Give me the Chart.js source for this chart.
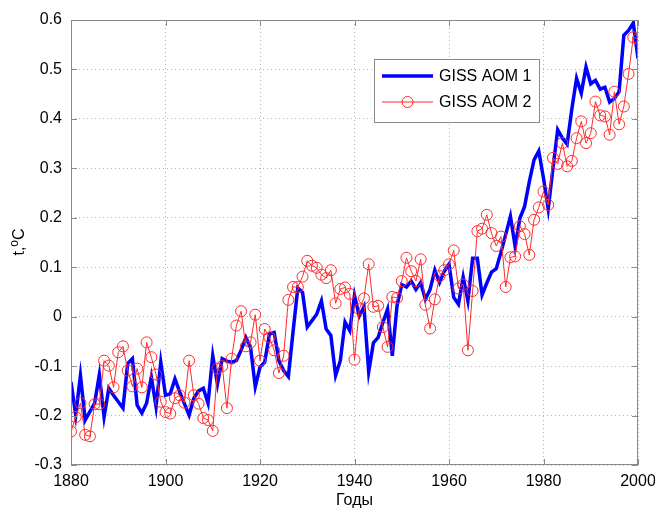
<!DOCTYPE html>
<html>
<head>
<meta charset="utf-8">
<script src="https://cdn.jsdelivr.net/npm/chart.js@4.4.1/dist/chart.umd.min.js"></script>
<style>
  body { margin: 0; background: #fff; }
</style>
</head>
<body>
<canvas id="chart" width="655" height="510"></canvas>
<script>
// years on the x axis
const firstYear = 1880;
const lastYear = 2000;
const years = [];
for (let y = firstYear; y <= lastYear; y++) years.push(y);

const xTicks = [1880, 1900, 1920, 1940, 1960, 1980, 2000];
const yTicks = [-0.3, -0.2, -0.1, 0, 0.1, 0.2, 0.3, 0.4, 0.5, 0.6];

// GISS AOM 1 (blue, thick)
const aom1 = [
  -0.132, -0.199, -0.119, -0.209, -0.192, -0.175, -0.117, -0.203, -0.145, -0.159,
  -0.172, -0.185, -0.095, -0.085, -0.179, -0.195, -0.175, -0.122, -0.182, -0.092,
  -0.159, -0.156, -0.126, -0.152, -0.176, -0.199, -0.165, -0.150, -0.145, -0.175,
  -0.079, -0.136, -0.085, -0.090, -0.092, -0.089, -0.068, -0.042, -0.062, -0.142,
  -0.102, -0.092, -0.035, -0.032, -0.089, -0.109, -0.121, -0.030, 0.058, 0.049,
  -0.021, -0.008, 0.005, 0.032, -0.025, -0.038, -0.119, -0.089, -0.011, -0.028,
  0.043, 0.001, 0.020, -0.111, -0.053, -0.042, -0.012, 0.015, -0.079, 0.022,
  0.065, 0.060, 0.072, 0.055, 0.069, 0.035, 0.055, 0.094, 0.069, 0.092,
  0.106, 0.039, 0.025, 0.080, 0.032, 0.118, 0.118, 0.044, 0.068, 0.090,
  0.097, 0.130, 0.166, 0.203, 0.142, 0.199, 0.223, 0.273, 0.317, 0.335,
  0.280, 0.218, 0.300, 0.378, 0.361, 0.349, 0.420, 0.482, 0.452, 0.505,
  0.471, 0.478, 0.460, 0.464, 0.434, 0.441, 0.455, 0.569, 0.579, 0.594,
  0.522
];

// GISS AOM 2 (red, circles)
const aom2 = [
  -0.232, -0.203, -0.175, -0.239, -0.242, -0.177, -0.177, -0.089, -0.099, -0.143,
  -0.072, -0.060, -0.109, -0.141, -0.105, -0.143, -0.052, -0.082, -0.117, -0.172,
  -0.193, -0.196, -0.165, -0.159, -0.174, -0.089, -0.159, -0.176, -0.205, -0.209,
  -0.231, -0.105, -0.100, -0.185, -0.085, -0.018, 0.011, -0.060, -0.052, 0.004,
  -0.089, -0.025, -0.042, -0.068, -0.114, -0.079, 0.034, 0.060, 0.060, 0.081,
  0.113, 0.103, 0.099, 0.085, 0.078, 0.094, 0.027, 0.056, 0.059, 0.046,
  -0.087, 0.015, 0.037, 0.106, 0.020, 0.022, -0.021, -0.061, 0.040, 0.038,
  0.072, 0.119, 0.092, 0.072, 0.116, 0.024, -0.024, 0.035, 0.082, 0.094,
  0.106, 0.134, 0.057, 0.065, -0.068, 0.052, 0.173, 0.178, 0.206, 0.169,
  0.143, 0.162, 0.060, 0.120, 0.122, 0.183, 0.167, 0.125, 0.196, 0.221,
  0.253, 0.226, 0.321, 0.309, 0.351, 0.304, 0.315, 0.361, 0.395, 0.351,
  0.371, 0.435, 0.407, 0.405, 0.368, 0.455, 0.389, 0.425, 0.491, 0.565,
  0.562
];

const FONT = "'Liberation Sans', Arial, Helvetica, sans-serif";
const AXIS_GREY = '#8a8a8a';

// box round the plot, ticks pointing inwards, axis titles, legend
const matlabAxes = {
  id: 'matlabAxes',
  afterDraw(chart) {
    const { ctx, chartArea: a, scales: { x, y } } = chart;
    ctx.save();
    ctx.strokeStyle = AXIS_GREY;
    ctx.lineWidth = 1;
    ctx.strokeRect(a.left + 0.5, a.top + 0.5, a.right - a.left - 1, a.bottom - a.top - 1);
    ctx.beginPath();
    xTicks.forEach(t => {
      const px = Math.round(x.getPixelForValue(t)) + 0.5;
      ctx.moveTo(px, a.bottom); ctx.lineTo(px, a.bottom - 6);
      ctx.moveTo(px, a.top); ctx.lineTo(px, a.top + 6);
    });
    yTicks.forEach(t => {
      const py = Math.round(y.getPixelForValue(t)) + 0.5;
      ctx.moveTo(a.left, py); ctx.lineTo(a.left + 6, py);
      ctx.moveTo(a.right, py); ctx.lineTo(a.right - 6, py);
    });
    ctx.stroke();

    // axis titles
    ctx.fillStyle = '#000';
    ctx.font = '16px ' + FONT;
    ctx.textAlign = 'center';
    ctx.textBaseline = 'middle';
    ctx.fillText('Годы', (a.left + a.right) / 2, 501);

    ctx.translate(20, 242);
    ctx.rotate(-Math.PI / 2);
    ctx.textAlign = 'left';
    ctx.font = '16px ' + FONT;
    const w1 = ctx.measureText('t,').width;
    ctx.font = '12px ' + FONT;
    const w2 = ctx.measureText('o').width;
    ctx.font = '16px ' + FONT;
    const w3 = ctx.measureText('C').width;
    let cx = -(w1 + w2 + w3) / 2;
    ctx.fillText('t,', cx, 0); cx += w1;
    ctx.font = '12px ' + FONT;
    ctx.fillText('o', cx, -5); cx += w2;
    ctx.font = '16px ' + FONT;
    ctx.fillText('C', cx, 0);
    ctx.restore();

    // legend
    ctx.save();
    const lx = 374, ly = 59, lw = 165, lh = 63;
    ctx.fillStyle = '#fff';
    ctx.fillRect(lx, ly, lw, lh);
    ctx.strokeStyle = AXIS_GREY;
    ctx.strokeRect(lx + 0.5, ly + 0.5, lw, lh);
    const sets = chart.data.datasets;
    const rows = [76, 102];
    sets.forEach((ds, i) => {
      const yy = rows[i];
      ctx.strokeStyle = ds.borderColor;
      ctx.lineWidth = ds.borderWidth;
      ctx.beginPath();
      ctx.moveTo(382, yy); ctx.lineTo(433, yy);
      ctx.stroke();
      if (ds.pointRadius > 0) {
        ctx.beginPath();
        ctx.arc(407.5, yy, ds.pointRadius, 0, Math.PI * 2);
        ctx.strokeStyle = ds.pointBorderColor;
        ctx.lineWidth = 1;
        ctx.stroke();
      }
      ctx.fillStyle = '#000';
      ctx.font = '16px ' + FONT;
      ctx.textAlign = 'left';
      ctx.textBaseline = 'middle';
      ctx.fillText(ds.label, 439, yy + 1);
    });
    ctx.restore();
  }
};

new Chart(document.getElementById('chart'), {
  type: 'line',
  data: {
    datasets: [
      {
        label: 'GISS AOM 1',
        data: years.map((yr, i) => ({ x: yr, y: aom1[i] })),
        borderColor: '#0000ff',
        borderWidth: 3.5,
        pointRadius: 0,
        tension: 0,
        order: 2
      },
      {
        label: 'GISS AOM 2',
        data: years.map((yr, i) => ({ x: yr, y: aom2[i] })),
        borderColor: '#ff2a2a',
        borderWidth: 1,
        pointRadius: 5.5,
        pointBorderColor: '#ff2a2a',
        pointBackgroundColor: 'rgba(0,0,0,0)',
        pointBorderWidth: 1,
        tension: 0,
        order: 1
      }
    ]
  },
  plugins: [matlabAxes],
  options: {
    responsive: false,
    animation: false,
    layout: { padding: { left: 0, right: 17, top: 20, bottom: 0 } },
    plugins: {
      legend: { display: false },
      tooltip: { enabled: false }
    },
    scales: {
      x: {
        type: 'linear',
        min: firstYear,
        max: lastYear,
        afterFit(scale) {
          scale.height = 45;
          scale.paddingLeft = 0;
          scale.paddingRight = 0;
        },
        afterBuildTicks(scale) { scale.ticks = xTicks.map(v => ({ value: v })); },
        ticks: {
          color: '#000',
          font: { family: FONT, size: 16 },
          padding: 7,
          maxRotation: 0,
          callback: v => String(v)
        },
        grid: { color: '#b5b5b5', drawTicks: false },
        border: { display: false, dash: [1, 3] }
      },
      y: {
        min: -0.3,
        max: 0.6,
        afterFit(scale) {
          scale.width = 71;
          scale.paddingTop = 0;
          scale.paddingBottom = 0;
        },
        afterBuildTicks(scale) { scale.ticks = yTicks.map(v => ({ value: v })); },
        ticks: {
          color: '#000',
          font: { family: FONT, size: 16 },
          padding: 9,
          callback: v => String(Number(v.toFixed(1)))
        },
        grid: { color: '#b5b5b5', drawTicks: false },
        border: { display: false, dash: [1, 3] }
      }
    }
  }
});
</script>
</body>
</html>
